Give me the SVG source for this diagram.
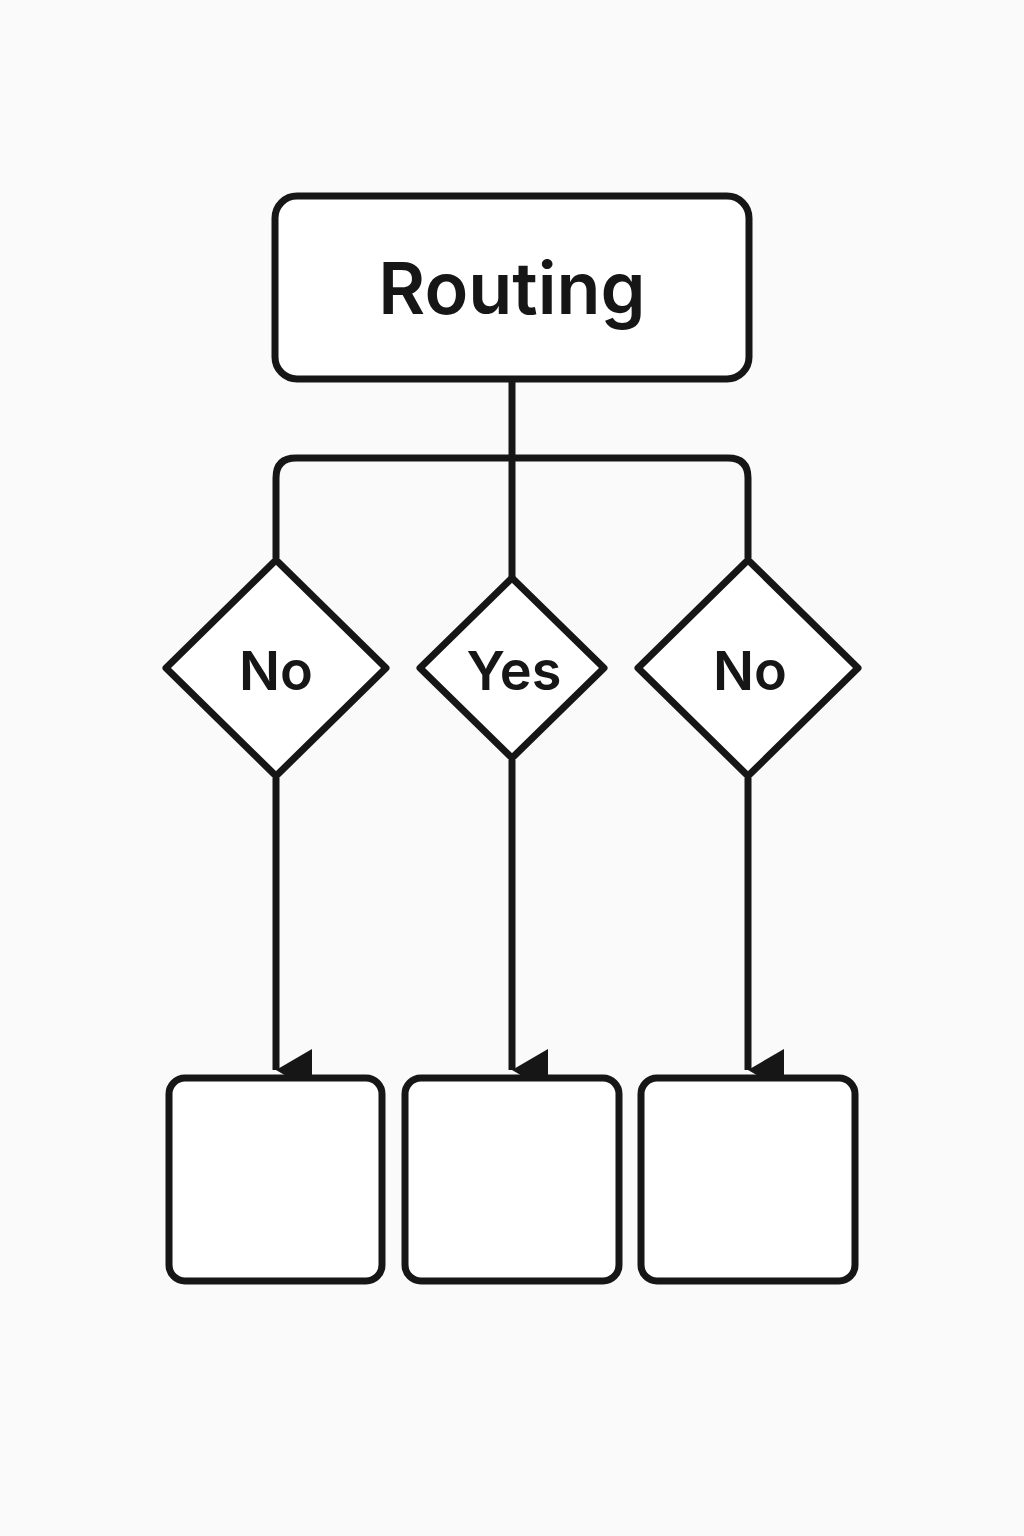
<svg xmlns="http://www.w3.org/2000/svg" width="1024" height="1536" viewBox="0 0 1024 1536">
<style>
.s{fill:#fff;stroke:#161616;stroke-width:7;stroke-linejoin:round}
.l{fill:none;stroke:#161616;stroke-width:7}
.t{font-family:Inter,"Liberation Sans",sans-serif;font-weight:600;fill:#161616;text-anchor:middle}
</style>
<defs><marker id="a" markerUnits="userSpaceOnUse" markerWidth="46" markerHeight="40" refX="23" refY="38" orient="auto"><path d="M2,2 L44,2 L23,38 Z" fill="#161616"/></marker></defs>
<rect width="1024" height="1536" fill="#fafafa"/>
<g id="connectors">
<path class="l" d="M512,380 V578"/>
<path class="l" d="M276,558 V478 Q276,458 296,458 H728 Q748,458 748,478 V558"/>
<path class="l" d="M276,778 V1070" marker-end="url(#a)"/>
<path class="l" d="M512,760 V1070" marker-end="url(#a)"/>
<path class="l" d="M748,778 V1070" marker-end="url(#a)"/>
</g>
<g id="routing"><rect class="s" x="275" y="196" width="474" height="183" rx="22"/><text class="t" x="512" y="314" font-size="72">Routing</text></g>
<g id="d1"><polygon class="s" points="276,560 386,668 276,776 166,668"/><text class="t" x="276" y="690" font-size="54">No</text></g>
<g id="d2"><polygon class="s" points="512,578 604,668 512,758 420,668"/><text class="t" x="514" y="690" font-size="54">Yes</text></g>
<g id="d3"><polygon class="s" points="748,560 858,668 748,776 638,668"/><text class="t" x="750" y="690" font-size="54">No</text></g>
<g id="b1"><rect class="s" x="169" y="1078" width="213" height="203" rx="16"/></g>
<g id="b2"><rect class="s" x="405" y="1078" width="214" height="203" rx="16"/></g>
<g id="b3"><rect class="s" x="641" y="1078" width="214" height="203" rx="16"/></g>
</svg>
